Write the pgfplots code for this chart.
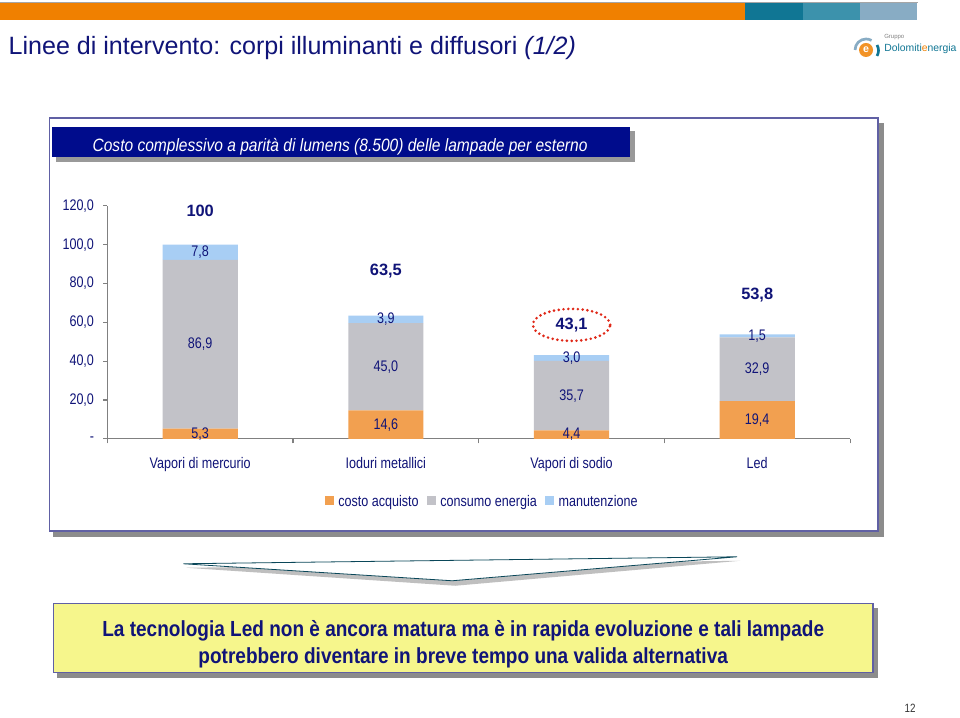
\documentclass[border=0pt]{standalone}
\usepackage{pgfplots}
\pgfplotsset{compat=1.18}
\usepackage{pgfplotstable}
\usepackage{fontspec}
\setmainfont{Liberation Sans}
\newfontfamily\narrow[FakeStretch=0.82]{Liberation Sans}
\newfontfamily\semi[FakeStretch=0.87]{Liberation Sans}

\definecolor{navy}{RGB}{16,20,120}
\definecolor{boxblue}{RGB}{0,12,140}
\definecolor{topor}{RGB}{240,128,0}
\definecolor{teal1}{RGB}{16,118,148}
\definecolor{teal2}{RGB}{60,146,172}
\definecolor{teal3}{RGB}{136,172,196}
\definecolor{cacq}{RGB}{242,160,80}
\definecolor{cene}{RGB}{194,194,200}
\definecolor{cman}{RGB}{168,206,244}
\definecolor{framec}{RGB}{96,96,164}
\definecolor{noteyel}{RGB}{246,246,140}
\definecolor{dotred}{RGB}{224,40,24}

% costo acquisto (a), consumo energia (e), manutenzione (m)
\pgfplotstableread{
x a e m
0 5.3 86.9 7.8
1 14.6 45.0 3.9
2 4.4 35.7 3.0
3 19.4 32.9 1.5
}\costi

\pgfplotsset{
  chartbox/.style={
    at={(ao)}, anchor=south west,
    scale only axis, width=557.25pt, height=174.75pt,
    xmin=-0.5, xmax=3.5, ymin=0, ymax=120, clip=false},
  seglabel/.style={only marks, mark=none, nodes near coords, point meta=explicit,
    nodes near coords={\pgfmathprintnumber[fixed,fixed zerofill,precision=1,use comma,assume math mode=true]{\pgfplotspointmeta}},
    nodes near coords style={anchor=center, inner sep=0pt,
      font=\narrow\fontsize{11.5}{13}\selectfont, text=navy}},
}

\begin{document}
\begin{tikzpicture}[x=0.75pt,y=-0.75pt]
\fill[white] (0,0) rectangle (960,716);

% header
\draw[gray!70, line width=0.6pt] (0,2) -- (918,2);
\fill[topor] (0,3) rectangle (745,20);
\fill[teal1] (745,3) rectangle (803,20);
\fill[teal2] (803,3) rectangle (860,20);
\fill[teal3] (860,3) rectangle (917,20);
\node[anchor=base west, inner sep=0, text=navy, font=\fontsize{18.8}{22}\selectfont]
  at (8,55) {Linee di intervento: corpi illuminanti e diffusori \textit{(1/2)}};

% logo
\draw[teal3, line width=2pt] (855,50) arc[start angle=180, end angle=300, radius=11];
\draw[teal1, line width=2pt] (877,45) arc[start angle=330, end angle=390, radius=11];
\fill[topor!85] (866,50) circle (7);
\node[text=white, font=\bfseries\fontsize{8}{8}\selectfont] at (866,49.5) {e};
\node[anchor=base west, inner sep=0, text=gray, font=\fontsize{4.5}{5}\selectfont] at (884,39) {Gruppo};
\node[anchor=base west, inner sep=0, font=\fontsize{7.8}{9}\selectfont] at (884,52)
  {\textcolor{teal1}{Dolomiti}\textcolor{topor}{e}\textcolor{teal1}{nergia}};

% chart panel
\fill[black!45] (53,123) rectangle (884,537);
\draw[fill=white, draw=framec, line width=1.2pt] (49,118) rectangle (878,531);
\fill[black!40] (56,131) rectangle (635,162);
\fill[boxblue] (52,127) rectangle (630,157);
\node[anchor=base west, inner sep=0, text=white, font=\semi\itshape\fontsize{13.4}{15}\selectfont]
  at (92,152) {Costo complessivo a parità di lumens (8.500) delle lampade per esterno};

\coordinate (ao) at (107,439);

\begin{axis}[
  chartbox,
  ybar stacked, bar width=0.405,
  axis x line=bottom, axis y line=left,
  axis line style={-, draw=black!50, line width=0.8pt},
  xtick={0,1,2,3},
  xticklabels={Vapori di mercurio, Ioduri metallici, Vapori di sodio, Led},
  minor xtick={-0.5,0.5,1.5,2.5,3.5},
  major x tick style={draw=none},
  minor x tick style={draw=black!50, line width=0.8pt},
  ytick={0,20,...,120},
  yticklabels={{-},{20,0},{40,0},{60,0},{80,0},{100,0},{120,0}},
  major y tick style={draw=black!50, line width=0.8pt},
  tick align=outside,
  major tick length=3pt, minor tick length=3.5pt,
  tick label style={font=\narrow\fontsize{11.5}{13}\selectfont, text=navy},
  xticklabel style={yshift=-7.5pt},
  yticklabel style={xshift=-3.5pt},
  legend style={draw=none, fill=none, at={(0.505,-0.27)}, anchor=center,
    legend columns=3, font=\narrow\fontsize{11.5}{13}\selectfont, text=navy,
    /tikz/every odd column/.append style={column sep=1.5pt},
    /tikz/every even column/.append style={column sep=4pt}},
  legend image code/.code={\fill[#1] (0pt,-2.8pt) rectangle (6.8pt,4pt);},
]
\addplot[fill=cacq, draw=none] table[x=x, y=a] {\costi};
\addplot[fill=cene, draw=none] table[x=x, y=e] {\costi};
\addplot[fill=cman, draw=none] table[x=x, y=m] {\costi};
\legend{costo acquisto, consumo energia, manutenzione}

% totals
\node[font=\bfseries\fontsize{12.3}{14}\selectfont, text=navy] at (axis cs:0,117.4) {100};
\node[font=\bfseries\fontsize{12.3}{14}\selectfont, text=navy] at (axis cs:1,86.5) {63,5};
\node[font=\bfseries\fontsize{12.3}{14}\selectfont, text=navy] at (axis cs:2,58.7) {43,1};
\node[font=\bfseries\fontsize{12.3}{14}\selectfont, text=navy] at (axis cs:3,74.2) {53,8};
\draw[dotred, line width=2.2pt, line cap=round, dash pattern=on 0pt off 3.6pt]
  (axis cs:2,58.7) ellipse [x radius=29pt, y radius=12pt];
\end{axis}

% segment value labels, centred in each segment
\begin{axis}[chartbox, hide axis]
\addplot[seglabel] table[x=x, y expr={\thisrow{a}/2}, meta=a] {\costi};
\addplot[seglabel] table[x=x, y expr={\thisrow{a}+\thisrow{e}/2}, meta=e] {\costi};
\addplot[seglabel] table[x=x, y expr={\thisrow{a}+\thisrow{e}+\thisrow{m}/2}, meta=m] {\costi};
\end{axis}

% arrow shape
\fill[black!25] (186,568) -- (740,561) -- (455,586) -- cycle;
\draw[fill=white, draw=teal1!60!black, line width=0.6pt] (183,564) -- (737,557) -- (452,581) -- cycle;

% note box
\fill[black!45] (57,608) rectangle (878,678);
\draw[fill=noteyel, draw=framec, line width=1pt] (53,604) rectangle (873,673);
\node[align=center, text=navy, font=\semi\bfseries\fontsize{16.4}{20.25}\selectfont] at (463,645)
  {La tecnologia Led non è ancora matura ma è in rapida evoluzione e tali lampade\\
   potrebbero diventare in breve tempo una valida alternativa};

\node[text=black!80, font=\narrow\fontsize{9}{10}\selectfont] at (910,709) {12};
\end{tikzpicture}
\end{document}
